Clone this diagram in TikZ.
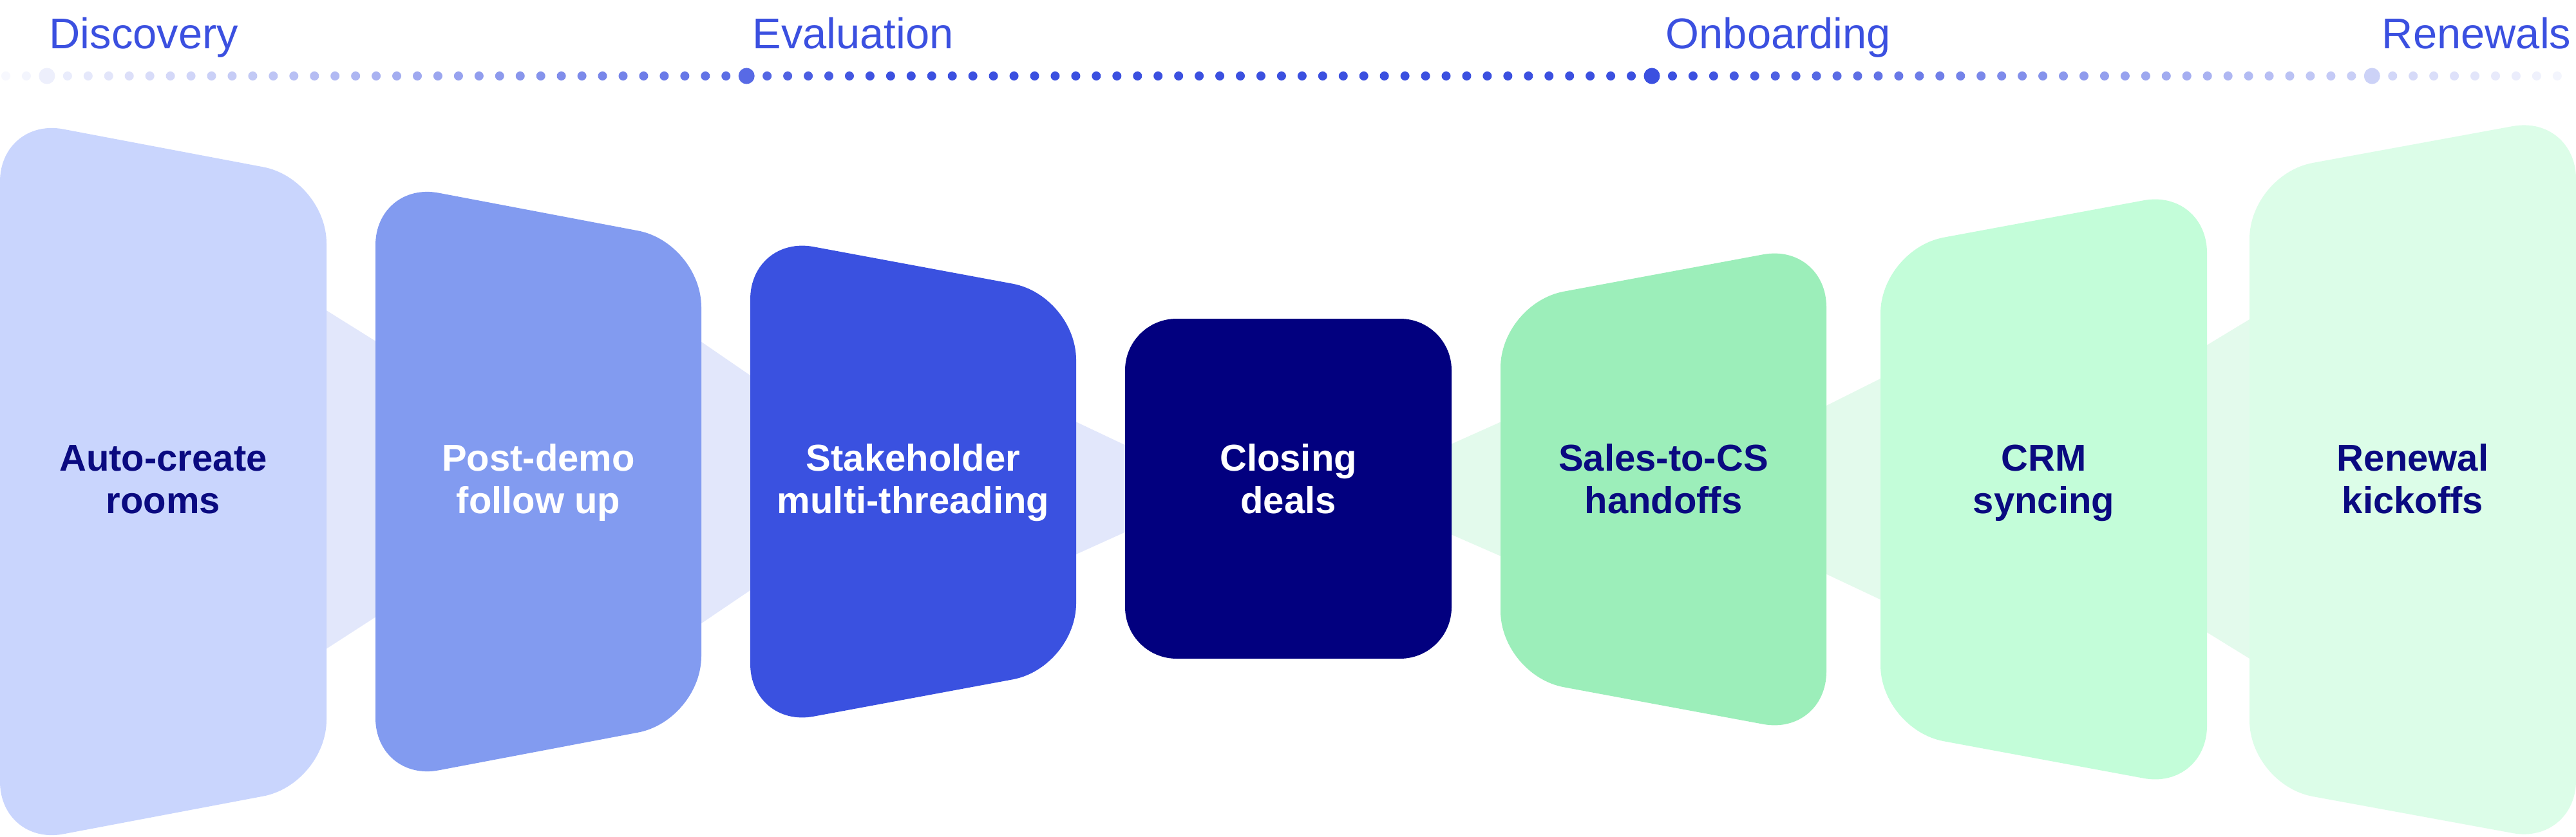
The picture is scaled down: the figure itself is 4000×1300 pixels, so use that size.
\documentclass[tikz,border=0pt]{standalone}
\usepackage{fontspec}
\setmainfont{Liberation Sans}

\definecolor{phaseblue}{HTML}{3B50E0}
\definecolor{navytext}{HTML}{0A0A80}
\definecolor{stageA}{HTML}{C9D5FD}
\definecolor{stageB}{HTML}{829BF0}
\definecolor{stageC}{HTML}{3A51E0}
\definecolor{stageD}{HTML}{02007F}
\definecolor{stageE}{HTML}{9CEEBA}
\definecolor{stageF}{HTML}{C3FDD9}
\definecolor{stageG}{HTML}{DCFDE8}
\definecolor{bandblue}{HTML}{E2E7FB}
\definecolor{bandgreen}{HTML}{E3FAEC}

\begin{document}
\begin{tikzpicture}[x=0.01cm, y=-0.01cm,
        stage/.style={rounded corners=1cm},
        stagetext/.style={font=\fontsize{16.5}{18.5}\selectfont\bfseries, align=center, anchor=base, inner sep=0pt},
        phase/.style={font=\fontsize{19}{22}\selectfont, text=phaseblue, inner sep=0pt}
    ]
        \fill[white] (0,0) rectangle (4000,1300);
        \useasboundingbox (0,0) rectangle (4000,1300);

        % Phase labels
        \node[phase, anchor=base west] (disc) at (76,76) {Discovery};
        \node[phase, anchor=base west] (eval) at (1168,76) {Evaluation};
        \node[phase, anchor=base west] (onb) at (2586,76) {Onboarding};
        \node[phase, anchor=base east] (ren) at (3993,76) {Renewals};

        % Dotted timeline
        \foreach \k in {0,...,124} {
            \pgfmathsetmacro\dx{9+31.95*\k}
            \pgfmathtruncatemacro\pc{100*min(1,0.04+0.0007*min(\dx,4000-\dx))}
            \fill[phaseblue!\pc!white] (\dx,118) circle (0.07cm);
        }
        \foreach \k in {2,36,80,115} {
            \pgfmathsetmacro\dx{9+31.95*\k}
            \pgfmathtruncatemacro\pc{100*min(1,0.04+0.0007*min(\dx,4000-\dx))}
            \fill[phaseblue!\pc!white] (\dx,118) circle (0.125cm);
        }

        % Bands between stages
        \fill[bandblue] (497,476) -- (593,536) -- (593,952) -- (497,1014) -- cycle;
        \fill[bandblue] (1079,524) -- (1175,590) -- (1175,910) -- (1079,975) -- cycle;
        \fill[bandblue] (1662,651) -- (1757,696) -- (1757,822) -- (1662,865) -- cycle;
        \fill[bandgreen] (2244,694) -- (2340,651) -- (2340,868) -- (2244,826) -- cycle;
        \fill[bandgreen] (2826,635) -- (2930,583) -- (2930,936) -- (2826,887) -- cycle;
        \fill[bandgreen] (3417,542) -- (3503,490) -- (3503,1029) -- (3417,976) -- cycle;

        % Stages
        \fill[stage, stageA] (0,182) -- (507,278) -- (507,1218) -- (0,1314) -- cycle;
        \fill[stage, stageB] (583,281) -- (1089,377) -- (1089,1119) -- (583,1215) -- cycle;
        \fill[stage, stageC] (1165,365) -- (1671,459) -- (1671,1037) -- (1165,1131) -- cycle;
        \fill[stageD, rounded corners=0.8cm] (1747,495) rectangle (2254,1023);
        \fill[stage, stageE] (2330,471) -- (2836,377) -- (2836,1143) -- (2330,1049) -- cycle;
        \fill[stage, stageF] (2920,387) -- (3427,293) -- (3427,1227) -- (2920,1133) -- cycle;
        \fill[stage, stageG] (3493,271) -- (4000,178) -- (4000,1312) -- (3493,1219) -- cycle;

        % Stage texts
        \node[stagetext, text=navytext] (rooms) at (253.5,797) {Auto-create\\rooms};
        \node[stagetext, text=white] (followup) at (836,797) {Post-demo\\follow up};
        \node[stagetext, text=white] (threading) at (1418,797) {Stakeholder\\multi-threading};
        \node[stagetext, text=white] (closing) at (2000.5,797) {Closing\\deals};
        \node[stagetext, text=navytext] (handoffs) at (2583,797) {Sales-to-CS\\handoffs};
        \node[stagetext, text=navytext] (crm) at (3173.5,797) {CRM\\syncing};
        \node[stagetext, text=navytext] (kickoffs) at (3746.5,797) {Renewal\\kickoffs};
    \end{tikzpicture}
\end{document}
